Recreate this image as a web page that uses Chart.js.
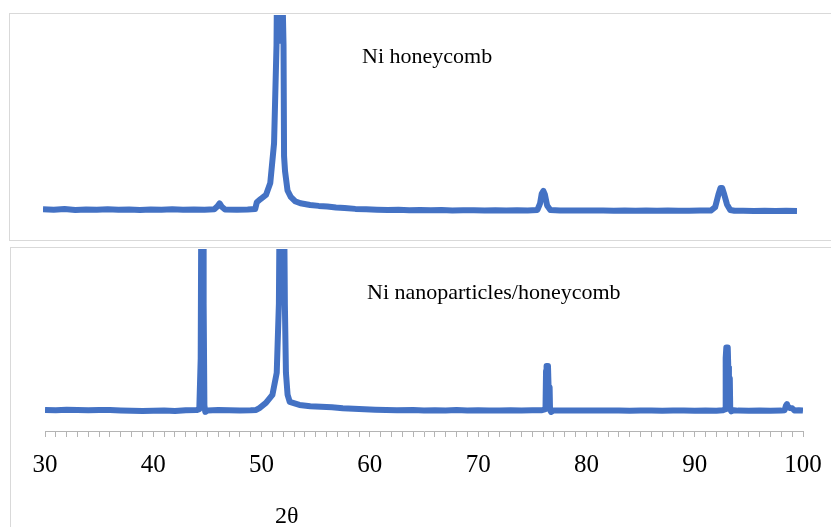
<!DOCTYPE html>
<html>
<head>
<meta charset="utf-8">
<script src="https://cdn.jsdelivr.net/npm/chart.js@4"></script>
<style>
body { margin: 0; background: #fff; overflow: hidden; width: 831px; height: 527px; position: relative; }
.box { position: absolute; border: 1px solid #d9d9d9; }
canvas { position: absolute; left: 0; }
</style>
</head>
<body>
<div class="box" style="left:9px;top:13px;width:840px;height:226px"></div>
<div class="box" style="left:10px;top:247px;width:840px;height:300px"></div>
<canvas id="topChart" width="831" height="240" style="top:0"></canvas>
<canvas id="bottomChart" width="831" height="287" style="top:240px"></canvas>
<script>
// Ni honeycomb pattern (2theta, intensity a.u.)
var honeyX = [30, 31, 32, 33, 34, 35, 36, 37, 38, 39, 40, 41, 42, 43, 44, 45, 45.9, 46.2, 46.4, 46.6, 46.9, 48, 49, 49.7,
    49.85, 50.2, 50.7, 51.1, 51.45, 51.55, 51.68, 51.75, 51.95, 52.15, 52.33, 52.38, 52.47, 52.7, 53.0, 53.4, 53.9,
    54.8, 55.6, 56.4, 57.2, 58, 59, 60, 61, 62, 63, 64, 65, 66, 67, 68, 69, 70, 71, 72, 73, 74, 75, 75.9, 76.15, 76.3,
    76.45, 76.6, 76.8, 77.1, 78, 79, 80, 81, 82, 83, 84, 85, 86, 87, 88, 89, 90, 91, 92, 92.4, 92.7, 92.9, 93.05,
    93.25, 93.5, 93.8, 94.2, 95, 96, 97, 98, 99, 100];
var honeyY = [9.2, 9.0, 9.3, 8.9, 9.1, 9.0, 9.2, 9.0, 9.1, 8.9, 9.1, 9.0, 9.2, 9.0, 9.1, 9.0, 9.2, 10.6, 12, 10.4, 9.1, 9.0, 9.1, 9.3,
    12.5, 14, 15.9, 21.5, 40, 60, 86, 130, 88, 130, 86, 34, 27, 18, 15, 13, 12,
    11.2, 10.8, 10.5, 10.0, 9.8, 9.4, 9.2, 9.0, 8.9, 9.0, 8.8, 8.9, 8.8, 8.9, 8.7, 8.8, 8.8, 8.7, 8.8, 8.7, 8.8, 8.7, 8.9, 12, 16.5,
    17.8, 16, 11, 8.9, 8.7, 8.6, 8.7, 8.6, 8.6, 8.5, 8.6, 8.5, 8.6, 8.5, 8.6, 8.5, 8.5, 8.6, 8.6, 10.2, 16, 19.2, 19.2,
    16, 11.5, 8.9, 8.5, 8.5, 8.4, 8.5, 8.4, 8.5, 8.4];

// Ni nanoparticles/honeycomb pattern
var nanoX = [30, 31, 32, 33, 34, 35, 36, 37, 38, 39, 40, 41, 42, 43, 44, 44.25, 44.38, 44.45, 44.6, 44.65, 44.72, 44.8, 45.0,
    46, 47, 48, 49, 49.5, 49.8, 50.4, 51.0, 51.4, 51.6, 51.7, 52.05, 52.15, 52.25, 52.4, 52.6, 53.5, 54.5, 55.5, 56.5,
    57.5, 58.5, 59.5, 60.5, 61.5, 62.5, 64, 65, 66, 67, 68, 69, 70, 71, 72, 73, 74, 75, 75.9, 76.22, 76.27, 76.32, 76.45,
    76.5, 76.6, 76.64, 76.74, 76.95, 78, 79, 80, 81, 82, 83, 84, 85, 86, 87, 88, 89, 90, 91, 92, 92.6, 92.82, 92.86, 92.92,
    93.05, 93.1, 93.16, 93.24, 93.28, 93.38, 93.6, 94, 95, 96, 97, 98, 98.3, 98.42, 98.52, 98.65, 98.8, 99.0, 99.2, 99.6, 100];
var nanoY = [11.6, 11.4, 11.7, 11.5, 11.4, 11.6, 11.5, 11.3, 11.1, 11.0, 11.1, 11.3, 11.0, 11.4, 11.5, 12, 40, 150, 150, 70, 14, 10.5, 11.3,
    11.5, 11.4, 11.3, 11.4, 11.6, 12.6, 15.4, 19.8, 32, 70, 150, 150, 70, 32, 20, 16, 14.3, 13.6, 13.3, 13.0,
    12.5, 12.2, 12.0, 11.7, 11.5, 11.4, 11.5, 11.3, 11.4, 11.3, 11.5, 11.3, 11.4, 11.3, 11.2, 11.4, 11.3, 11.4, 11.4, 12, 33, 35.7, 35.7,
    25, 24, 11.5, 10.5, 11.3, 11.3, 11.2, 11.3, 11.2, 11.2, 11.3, 11.1, 11.2, 11.2, 11.1, 11.2, 11.2, 11.1, 11.2, 11.1, 11.4, 12, 40, 45.9,
    45.9, 35, 29.8, 29, 12, 10.8, 11.4, 11.2, 11.1, 11.2, 11.1, 11.2, 11.4, 13.8, 14.8, 13, 12.6, 12.5, 11.3, 11.4, 11.2];

var tickLabels = [30, 40, 50, 60, 70, 80, 90, 100];
var xTitle = "2θ";
var topLabel = "Ni honeycomb";
var bottomLabel = "Ni nanoparticles/honeycomb";

var blue = "#4472C4";
var serif = "'Liberation Serif', 'Times New Roman', serif";

var toPoints = function (xs, ys) {
    return xs.map(function (x, i) { return { x: x, y: ys[i] }; });
};

// draws free text at fixed canvas positions
var notesPlugin = {
    id: "notes",
    afterDraw: function (chart, args, opts) {
        var ctx = chart.ctx;
        ctx.save();
        (opts.items || []).forEach(function (n) {
            ctx.font = n.size + "px " + serif;
            ctx.fillStyle = "#000";
            ctx.textAlign = "left";
            ctx.textBaseline = "alphabetic";
            ctx.fillText(n.text, n.x, n.y);
        });
        ctx.restore();
    }
};

var lineSet = function (xs, ys) {
    return {
        data: toPoints(xs, ys),
        borderColor: blue,
        borderWidth: 6,
        pointRadius: 0,
        tension: 0,
        borderJoinStyle: "round",
        borderCapStyle: "butt",
        clip: 0
    };
};

var topChart = function () {
    var ctx = document.getElementById("topChart").getContext("2d");
    new Chart(ctx, {
        type: "line",
        data: { datasets: [lineSet(honeyX, honeyY)] },
        options: {
            responsive: false,
            animation: false,
            layout: { padding: { left: 43, right: 34, top: 15, bottom: 11 } },
            scales: {
                x: { type: "linear", min: 30, max: 100, display: false },
                y: { min: 0, max: 100, display: false }
            },
            plugins: {
                legend: { display: false },
                tooltip: { enabled: false },
                notes: { items: [{ text: topLabel, x: 362, y: 63, size: 22 }] }
            }
        },
        plugins: [notesPlugin]
    });
};

var bottomChart = function () {
    var ctx = document.getElementById("bottomChart").getContext("2d");
    new Chart(ctx, {
        type: "line",
        data: { datasets: [lineSet(nanoX, nanoY)] },
        options: {
            responsive: false,
            animation: false,
            layout: { padding: { left: 45, right: 28, top: 9, bottom: 34 } },
            scales: {
                x: {
                    type: "linear", min: 30, max: 100,
                    afterFit: function (scale) {
                        // labels fit inside the layout padding already
                        scale.paddingLeft = 0;
                        scale.paddingRight = 0;
                    },
                    grid: { drawOnChartArea: false, tickLength: 6, color: "#b4b4b4" },
                    border: { color: "#b4b4b4" },
                    ticks: {
                        stepSize: 1, autoSkip: false, maxRotation: 0, padding: 13,
                        color: "#000", font: { family: serif, size: 25 },
                        callback: function (v) { return tickLabels.indexOf(v) >= 0 ? String(v) : ""; }
                    }
                },
                y: { min: 0, max: 100, display: false }
            },
            plugins: {
                legend: { display: false },
                tooltip: { enabled: false },
                notes: { items: [
                    { text: bottomLabel, x: 367, y: 59, size: 22 },
                    { text: xTitle, x: 275, y: 283, size: 24 }
                ] }
            }
        },
        plugins: [notesPlugin]
    });
};

window.onload = function () {
    topChart();
    bottomChart();
};
</script>
</body>
</html>
